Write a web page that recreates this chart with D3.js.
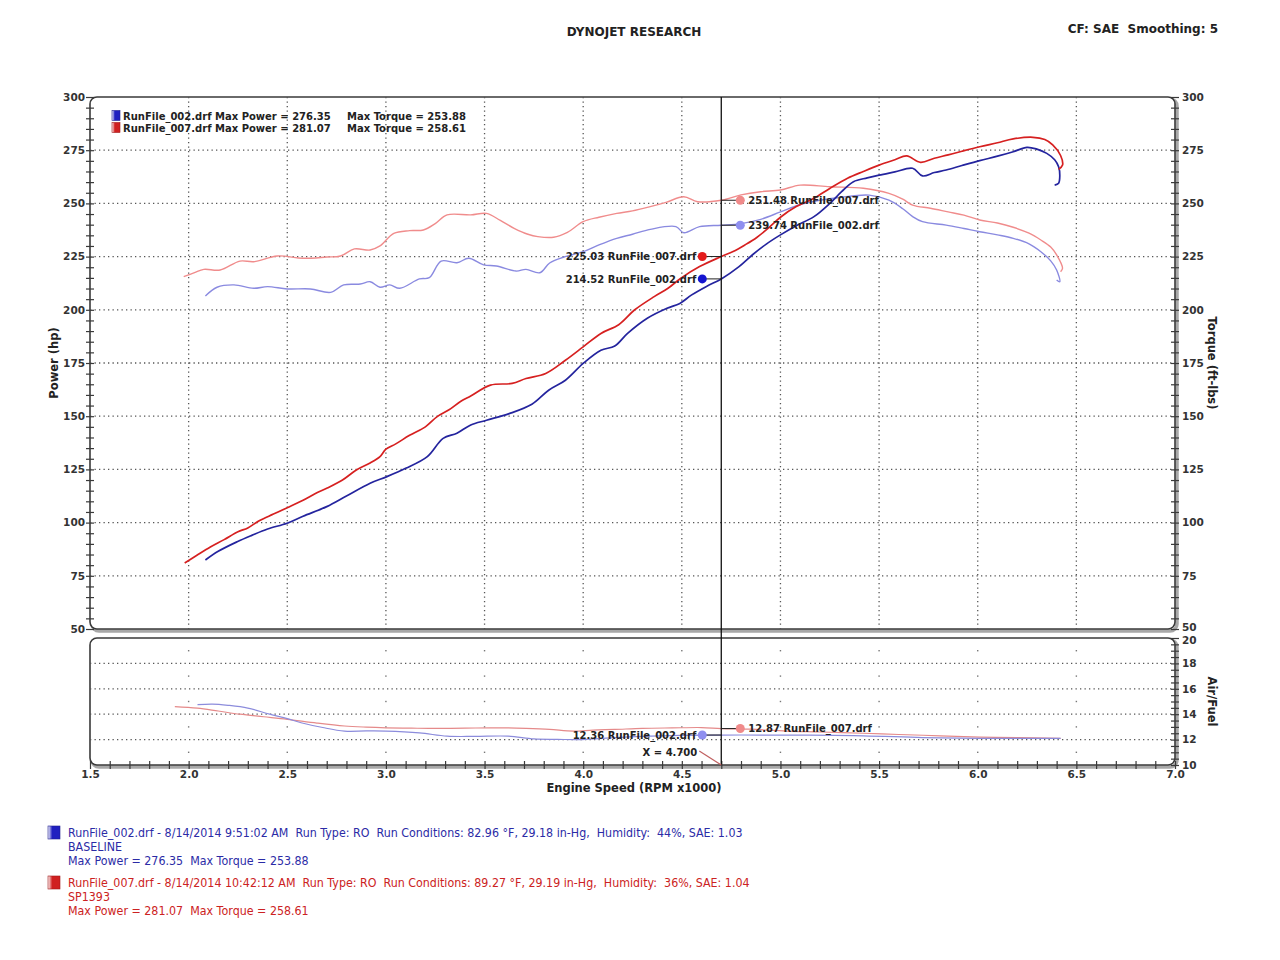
<!DOCTYPE html>
<html><head><meta charset="utf-8">
<script src="https://cdn.jsdelivr.net/npm/d3@7"></script>
<style>
body{margin:0;background:#fff}
svg{display:block}
text{font-family:"DejaVu Sans",Verdana,sans-serif;white-space:pre}
</style>
</head><body>
<svg id="c" width="1280" height="960"></svg>
<script>
// ---------------- DATA ----------------
const rpmTickLabels = [1.5,2.0,2.5,3.0,3.5,4.0,4.5,5.0,5.5,6.0,6.5,7.0];
const powerTickLabels = [50,75,100,125,150,175,200,225,250,275,300];
const afrTickLabels = [10,12,14,16,18,20];
const cursorRpm = 4.700;

// RunFile_007 power (hp)
const rpm007P = [1.98,2.04,2.11,2.18,2.25,2.30,2.36,2.43,2.50,2.58,2.65,2.70,2.78,2.85,2.92,2.97,3.00,3.05,3.12,3.20,3.26,3.32,3.38,3.43,3.53,3.64,3.71,3.81,3.91,4.00,4.09,4.18,4.26,4.36,4.43,4.49,4.59,4.70,4.76,4.82,4.88,4.94,5.00,5.08,5.17,5.25,5.34,5.42,5.50,5.58,5.64,5.71,5.78,5.85,5.92,6.01,6.10,6.18,6.28,6.34,6.38,6.42,6.43,6.41];
const power007 = [81,84.5,88.5,92,95.7,97.5,101,104,107,110.5,114,116.1,120,124.7,128,131,134.5,137,141,145,149.8,153,157,159.5,164.6,165.4,167.7,170.1,176.3,182.6,188.9,193,199.9,206.2,210.1,214.5,220.3,225.03,227.4,230.5,234,238.5,243.5,248.5,252.4,257,261.8,265,268,270.5,272.3,269.3,271.2,272.8,274.5,276.6,278.5,280.3,281.07,280,277.5,272.5,268,266];

// RunFile_002 power (hp)
const rpm002P = [2.085,2.15,2.246,2.32,2.40,2.499,2.58,2.70,2.80,2.92,3.005,3.10,3.21,3.29,3.36,3.43,3.51,3.625,3.74,3.825,3.91,4.00,4.09,4.16,4.225,4.325,4.425,4.49,4.55,4.625,4.70,4.79,4.86,4.93,5.00,5.08,5.17,5.25,5.31,5.37,5.44,5.50,5.58,5.67,5.72,5.78,5.84,5.92,6.01,6.10,6.18,6.25,6.30,6.35,6.39,6.41,6.416,6.41,6.39];
const power002 = [82.4,86.5,91,94,97,99.7,103,107.5,112.5,118.5,121.6,125.5,131,139.6,142,145.9,148.1,151.2,155.6,162.2,166.9,174.8,181,183,188.9,196,200.7,203,207,211,214.52,220.3,226,231,235.2,239.5,243.8,250,255.5,260.2,262,263.3,264.8,266.5,262.9,264.5,265.7,267.8,270.1,272.2,274.3,276.35,275.5,273.5,270.5,267.2,263,259.5,258.6];

// RunFile_007 torque (ft-lbs)
const rpm007T = [1.975,2.03,2.077,2.16,2.26,2.33,2.45,2.58,2.70,2.77,2.84,2.92,2.97,3.04,3.12,3.19,3.25,3.31,3.43,3.51,3.58,3.65,3.72,3.77,3.85,3.92,4.00,4.08,4.17,4.25,4.34,4.42,4.51,4.58,4.70,4.80,4.90,5.00,5.10,5.25,5.42,5.55,5.62,5.67,5.76,5.85,5.93,6.01,6.10,6.18,6.26,6.32,6.37,6.40,6.43,6.42];
const torque007 = [215.6,217.5,219,218.7,222.9,222.6,225.3,224.2,224.8,225.3,228.6,228.1,230,235.9,237.2,237.5,240.5,244.6,244.6,245.3,242,238.3,235.5,234.4,234.1,236.4,241.4,243.5,245.3,246.5,248.5,250.5,253.1,250.8,251.48,254,255.5,256.3,258.61,257.8,257.1,254.7,252,249.2,247.7,246,244.5,242.2,240.8,238.8,236,232.8,229.5,225.8,219.5,217.9];

// RunFile_002 torque (ft-lbs)
const rpm002T = [2.085,2.144,2.23,2.33,2.40,2.50,2.617,2.72,2.786,2.87,2.92,2.97,3.02,3.07,3.17,3.22,3.28,3.36,3.42,3.495,3.56,3.66,3.71,3.78,3.83,3.90,4.00,4.08,4.17,4.25,4.34,4.47,4.51,4.59,4.70,4.80,4.90,5.00,5.10,5.20,5.30,5.45,5.55,5.62,5.67,5.72,5.84,5.93,6.01,6.10,6.18,6.26,6.32,6.37,6.40,6.416,6.40];
const torque002 = [206.5,210.6,211.7,210.1,210.9,209.8,209.8,208.2,211.7,212.1,213.2,210.6,211.7,210.1,214.5,215.1,222.9,222.1,224.2,221.1,220.6,218.2,219,217.4,222,224.7,227.3,230.5,233.6,235.5,237.8,239.1,236.2,239.1,239.74,240.5,242.5,246,249.5,251.5,252.8,253.88,251.5,247.5,243.8,241.4,239.8,238.2,236.7,235.2,233.6,231,227.3,223,218.7,213.2,214];

// Air/Fuel
const rpm007A = [1.93,2.045,2.15,2.26,2.38,2.50,2.65,2.79,2.90,3.00,3.13,3.26,3.40,3.53,3.62,3.71,3.83,3.95,4.05,4.16,4.30,4.45,4.60,4.70,4.85,5.03,5.20,5.42,5.60,5.81,6.01,6.20,6.42];
const afr007 = [14.6,14.48,14.25,14.0,13.8,13.6,13.3,13.07,12.98,12.93,12.9,12.88,12.9,12.93,12.92,12.88,12.8,12.67,12.75,12.8,12.88,12.92,12.95,12.87,12.82,12.67,12.6,12.5,12.4,12.3,12.2,12.15,12.1];
const rpm002A = [2.045,2.12,2.20,2.30,2.41,2.50,2.57,2.68,2.79,2.90,3.00,3.17,3.31,3.45,3.62,3.75,3.87,3.98,4.10,4.30,4.50,4.70,4.90,5.10,5.42,5.72,6.01,6.20,6.42];
const afr002 = [14.75,14.8,14.7,14.48,14.0,13.65,13.33,12.95,12.67,12.68,12.67,12.53,12.27,12.25,12.27,12.05,12.02,12.0,12.1,12.25,12.33,12.36,12.36,12.35,12.3,12.16,12.1,12.1,12.1];

// Cursor readouts
const cursorPower = [214.52, 225.03];   // 002, 007
const cursorTorque = [239.74, 251.48];  // 002, 007
const cursorAfr = [12.36, 12.87];       // 002, 007

const legendTop = [
  {name:"RunFile_002.drf", power:"276.35", torque:"253.88"},
  {name:"RunFile_007.drf", power:"281.07", torque:"258.61"}
];
const legendBottom = [
  ["RunFile_002.drf - 8/14/2014 9:51:02 AM  Run Type: RO  Run Conditions: 82.96 \u00B0F, 29.18 in-Hg,  Humidity:  44%, SAE: 1.03","BASELINE","Max Power = 276.35  Max Torque = 253.88"],
  ["RunFile_007.drf - 8/14/2014 10:42:12 AM  Run Type: RO  Run Conditions: 89.27 \u00B0F, 29.19 in-Hg,  Humidity:  36%, SAE: 1.04","SP1393","Max Power = 281.07  Max Torque = 258.61"]
];

// ---------------- STYLE ----------------
const C = {
  red:"#d62020", blue:"#24249e", pink:"#f08c8c", lav:"#8a8ae0",
  afrRed:"#e58a8a", afrBlue:"#8c8cdc", grid:"#555", frame:"#3a3a3a", text:"#2a2a2a"
};

const svg = d3.select("#c");
const x = d3.scaleLinear([1.5,7.0],[90,1175]);
const yP = d3.scaleLinear([50,300],[629,97]);
const yA = d3.scaleLinear([10,20],[765,638]);

// defs: gradients for icons
const defs = svg.append("defs");
function grad(id,c){
  const g = defs.append("linearGradient").attr("id",id).attr("x1","0").attr("x2","1");
  g.append("stop").attr("offset","0").attr("stop-color","#fff");
  g.append("stop").attr("offset","0.35").attr("stop-color",c);
  g.append("stop").attr("offset","1").attr("stop-color",c);
}
grad("gb","#2020c0"); grad("gr","#d02020");

// ---------------- HEADER ----------------
svg.append("text").attr("x",634).attr("y",36).attr("text-anchor","middle")
  .attr("font-size",12).attr("font-weight","bold").attr("fill","#222").text("DYNOJET RESEARCH");
svg.append("text").attr("x",1218).attr("y",33).attr("text-anchor","end")
  .attr("font-size",12).attr("font-weight","bold").attr("fill","#222").text("CF: SAE  Smoothing: 5");

// ---------------- PANELS ----------------
function panel(y0,y1){
  svg.append("rect").attr("x",x(1.5)+2).attr("y",y0+2).attr("width",x(7)-x(1.5)).attr("height",y1-y0)
    .attr("rx",7).attr("fill","none").attr("stroke","#a8a8a8").attr("stroke-width",3.5);
  svg.append("rect").attr("x",x(1.5)).attr("y",y0).attr("width",x(7)-x(1.5)).attr("height",y1-y0)
    .attr("rx",7).attr("fill","#fff").attr("stroke",C.frame).attr("stroke-width",1.6);
}
panel(yP(300),yP(50));
panel(yA(20),yA(10));

// grid main
const gridRpm = rpmTickLabels.filter(v=>v>1.5 && v<7);
const gridPow = powerTickLabels.filter(v=>v>50 && v<300);
const gMain = svg.append("g").attr("stroke",C.grid).attr("stroke-width",1.3).attr("stroke-dasharray","1.3,3.2");
gMain.selectAll("line.v").data(gridRpm).join("line").attr("class","v")
  .attr("x1",d=>x(d)).attr("x2",d=>x(d)).attr("y1",yP(300)).attr("y2",yP(50));
gMain.selectAll("line.h").data(gridPow).join("line").attr("class","h")
  .attr("x1",x(1.5)).attr("x2",x(7)).attr("y1",d=>yP(d)).attr("y2",d=>yP(d));

// grid lower
const gridAfr = afrTickLabels.filter(v=>v>10 && v<20);
const gLow = svg.append("g").attr("stroke",C.grid).attr("stroke-width",1.3).attr("stroke-dasharray","1.3,3.2");
gLow.selectAll("line").data(gridAfr).join("line")
  .attr("x1",x(1.5)).attr("x2",x(7)).attr("y1",d=>yA(d)).attr("y2",d=>yA(d));
const dotPts = [];
gridRpm.forEach(r=>[11,13,15,17,19].forEach(a=>dotPts.push([r,a])));
svg.append("g").selectAll("rect").data(dotPts).join("rect")
  .attr("x",d=>x(d[0])-0.7).attr("y",d=>yA(d[1])-0.7).attr("width",1.4).attr("height",1.4).attr("fill","#777");

// ---------------- AXES ----------------
function styleAxis(g){
  g.select(".domain").remove();
  g.selectAll("line").attr("stroke",C.frame).attr("stroke-width",1.2);
  g.selectAll("text").attr("font-size",10.5).attr("font-weight","bold").attr("fill","#333")
    .attr("font-family","'DejaVu Sans',Verdana,sans-serif");
}
// minor tick marks (crossing frame)
svg.append("g").attr("transform",`translate(${x(1.5)+4},0)`)
  .call(d3.axisLeft(yP).tickValues(d3.range(50,301,5)).tickSize(8).tickFormat(""))
  .call(styleAxis);
svg.append("g").attr("transform",`translate(${x(7)-4},0)`)
  .call(d3.axisRight(yP).tickValues(d3.range(50,301,5)).tickSize(8).tickFormat(""))
  .call(styleAxis);
svg.append("g").attr("transform",`translate(${x(7)-4},0)`)
  .call(d3.axisRight(yA).tickValues(d3.range(10,20.01,0.5)).tickSize(8).tickFormat(""))
  .call(styleAxis);
svg.append("g").attr("transform",`translate(0,${yA(10)-4})`)
  .call(d3.axisBottom(x).tickValues(d3.range(15,71,1).map(v=>v/10)).tickSize(8).tickFormat(""))
  .call(styleAxis);
// labels
svg.append("g").attr("transform",`translate(${x(1.5)},0)`)
  .call(d3.axisLeft(yP).tickValues(powerTickLabels).tickSize(0).tickPadding(5).tickFormat(d3.format("d")))
  .call(styleAxis);
const rAx = svg.append("g").attr("transform",`translate(${x(7)},0)`)
  .call(d3.axisRight(yP).tickValues(powerTickLabels).tickSize(0).tickPadding(7).tickFormat(d3.format("d")))
  .call(styleAxis);
rAx.selectAll(".tick").filter(d=>d===50).select("text").attr("dy","0.1em");
const aAx = svg.append("g").attr("transform",`translate(${x(7)},0)`)
  .call(d3.axisRight(yA).tickValues(afrTickLabels).tickSize(0).tickPadding(7).tickFormat(d3.format("d")))
  .call(styleAxis);
aAx.selectAll(".tick").filter(d=>d===20).select("text").attr("dy","0.55em");
svg.append("g").attr("transform",`translate(0,${yA(10)})`)
  .call(d3.axisBottom(x).tickValues(rpmTickLabels).tickSize(0).tickPadding(6).tickFormat(d3.format(".1f")))
  .call(styleAxis);

// axis titles
svg.append("text").attr("transform",`translate(58,${(yP(300)+yP(50))/2}) rotate(-90)`)
  .attr("text-anchor","middle").attr("font-size",11.5).attr("font-weight","bold").attr("fill","#222").text("Power (hp)");
svg.append("text").attr("transform",`translate(1208,${(yP(300)+yP(50))/2}) rotate(90)`)
  .attr("text-anchor","middle").attr("font-size",11.5).attr("font-weight","bold").attr("fill","#222").text("Torque (ft-lbs)");
svg.append("text").attr("transform",`translate(1208,${(yA(20)+yA(10))/2}) rotate(90)`)
  .attr("text-anchor","middle").attr("font-size",11.5).attr("font-weight","bold").attr("fill","#222").text("Air/Fuel");
svg.append("text").attr("x",634).attr("y",792).attr("text-anchor","middle")
  .attr("font-size",11.5).attr("font-weight","bold").attr("fill","#222").text("Engine Speed (RPM x1000)");

// ---------------- CURVES ----------------
const lineP = d3.line().x(d=>x(d[0])).y(d=>yP(d[1])).curve(d3.curveCatmullRom.alpha(0.5));
const lineA = d3.line().x(d=>x(d[0])).y(d=>yA(d[1])).curve(d3.curveCatmullRom.alpha(0.5));
function draw(line,rs,vs,color,w){
  svg.append("path").datum(d3.zip(rs,vs)).attr("d",line).attr("fill","none")
    .attr("stroke",color).attr("stroke-width",w).attr("stroke-linejoin","round");
}
draw(lineA,rpm007A,afr007,C.afrRed,1.2);
draw(lineA,rpm002A,afr002,C.afrBlue,1.2);
draw(lineP,rpm002T,torque002,C.lav,1.4);
draw(lineP,rpm007T,torque007,C.pink,1.4);
draw(lineP,rpm002P,power002,C.blue,1.7);
draw(lineP,rpm007P,power007,C.red,1.7);

// ---------------- CURSOR ----------------
const cx = x(cursorRpm);
svg.append("line").attr("x1",cx).attr("x2",cx).attr("y1",yP(300)).attr("y2",yA(10))
  .attr("stroke","#111").attr("stroke-width",1.3);

const ann = [
  {v:cursorTorque[1], y:yP, side:1, dot:"#f08a8a", txt:"RunFile_007.drf"},
  {v:cursorTorque[0], y:yP, side:1, dot:"#8f8ff0", txt:"RunFile_002.drf"},
  {v:cursorPower[1], y:yP, side:-1, dot:"#e41c1c", txt:"RunFile_007.drf"},
  {v:cursorPower[0], y:yP, side:-1, dot:"#1414d0", txt:"RunFile_002.drf"},
  {v:cursorAfr[1], y:yA, side:1, dot:"#f08a8a", txt:"RunFile_007.drf"},
  {v:cursorAfr[0], y:yA, side:-1, dot:"#8f8ff0", txt:"RunFile_002.drf"}
];
ann.forEach(a=>{
  const yy = a.y(a.v), dx = cx + a.side*19;
  svg.append("line").attr("x1",cx).attr("x2",dx).attr("y1",yy).attr("y2",yy).attr("stroke","#222").attr("stroke-width",1);
  svg.append("circle").attr("cx",dx).attr("cy",yy).attr("r",4.5).attr("fill",a.dot);
  svg.append("text").attr("x",dx + a.side*(a.side>0?8:6)).attr("y",yy+3.7)
    .attr("text-anchor",a.side>0?"start":"end").attr("font-size",10).attr("font-weight","bold").attr("fill","#222")
    .text(`${a.v.toFixed(2)} ${a.txt}`);
});
svg.append("text").attr("x",cx-24).attr("y",yA(10)-9).attr("text-anchor","end")
  .attr("font-size",10).attr("font-weight","bold").attr("fill","#222").text(`X = ${cursorRpm.toFixed(3)}`);
svg.append("line").attr("x1",cx-22).attr("y1",yA(10)-14).attr("x2",cx).attr("y2",yA(10))
  .attr("stroke","#c06060").attr("stroke-width",1.2);

// ---------------- LEGEND TOP ----------------
const lt = svg.append("g");
legendTop.forEach((d,i)=>{
  const yy = 116 + i*12;
  lt.append("rect").attr("x",112).attr("y",yy-5.5).attr("width",8).attr("height",10)
    .attr("fill",i==0?"url(#gb)":"url(#gr)").attr("stroke",i==0?"#202090":"#a01818").attr("stroke-width",0.6);
  lt.append("text").attr("x",123).attr("y",yy+3.7).attr("font-size",10).attr("font-weight","bold").attr("fill","#222")
    .text(`${d.name} Max Power = ${d.power}`);
  lt.append("text").attr("x",347).attr("y",yy+3.7).attr("font-size",10).attr("font-weight","bold").attr("fill","#222")
    .text(`Max Torque = ${d.torque}`);
});

// ---------------- LEGEND BOTTOM ----------------
const lb = svg.append("g");
legendBottom.forEach((lines,i)=>{
  const y0 = 837 + i*50;
  const col = i==0 ? "#2b2ba6" : "#cc2222";
  lb.append("rect").attr("x",48).attr("y",y0-11).attr("width",12).attr("height",13)
    .attr("fill",i==0?"url(#gb)":"url(#gr)").attr("stroke",i==0?"#202090":"#a01818").attr("stroke-width",0.6);
  const tg = lb.append("g").attr("transform",`translate(68,${y0}) scale(0.925,1)`);
  lines.forEach((t,j)=>{
    tg.append("text").attr("x",0).attr("y",j*14).attr("font-family","'Liberation Sans',Arial,sans-serif")
      .attr("font-size",12).attr("fill",col).text(t);
  });
});
</script>
</body></html>
